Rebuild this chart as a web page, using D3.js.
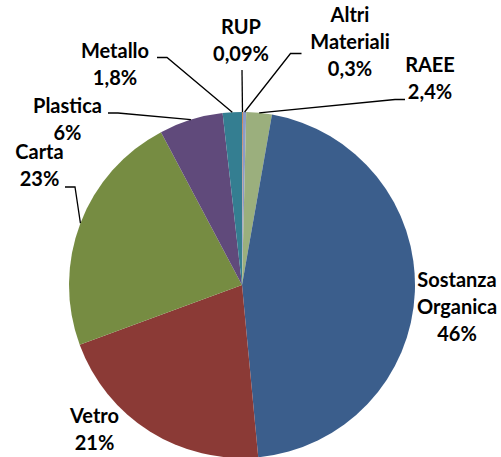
<!DOCTYPE html>
<html>
<head>
<meta charset="utf-8">
<script src="https://cdn.jsdelivr.net/npm/d3@7"></script>
<style>
  html, body { margin: 0; padding: 0; background: #fff; }
  svg { display: block; }
  text { font-family: Lato, "Open Sans", sans-serif; font-weight: bold; fill: #000; }
</style>
</head>
<body>
<svg id="chart" width="501" height="457"></svg>
<script>
// ---- data ----
const categories = ["RUP", "Altri Materiali", "RAEE", "Sostanza Organica", "Vetro", "Carta", "Plastica", "Metallo"];
const values = [0.09, 0.3, 2.4, 46, 21, 23, 6, 1.8];
const valueLabels = ["0,09%", "0,3%", "2,4%", "46%", "21%", "23%", "6%", "1,8%"];
const nameLines = [["RUP"], ["Altri", "Materiali"], ["RAEE"], ["Sostanza", "Organica"], ["Vetro"], ["Carta"], ["Plastica"], ["Metallo"]];
const colors = ["#D0804A", "#8C9CC8", "#9BAF7D", "#3B5E8C", "#8B3A36", "#768C42", "#604A7B", "#347E91"];

// ---- layout (label placement, manually positioned as in the source) ----
// x: text centre, y: first baseline, leader: [startX, startY, stubDx] or null
const labelLayout = [
  { x: 241, y: 34,  leader: [242, 70, 0] },
  { x: 350, y: 21.5, leader: [301.5, 53.5, -11] },
  { x: 430, y: 71.5, leader: [405, 99.5, -10] },
  { x: 457, y: 287, leader: null },
  { x: 94.5, y: 422.5, leader: null },
  { x: 39.5, y: 159, leader: [65, 187, 10] },
  { x: 67.5, y: 112.5, leader: [108, 113, 10] },
  { x: 115, y: 58, leader: [157, 57.5, 10] }
];
const lineGap = 27;

const svg = d3.select("#chart");
const cx = 242, cy = 285, r = 173;
const g = svg.append("g").attr("transform", `translate(${cx},${cy})`);

const pie = d3.pie().sort(null).value(d => d).startAngle(0).endAngle(2 * Math.PI);
const arcs = pie(values);
const arc = d3.arc().innerRadius(0).outerRadius(r);

g.selectAll("path.slice")
  .data(arcs)
  .join("path")
  .attr("class", "slice")
  .attr("d", arc)
  .attr("fill", (d, i) => colors[i]);

// leader lines
arcs.forEach((a, i) => {
  const L = labelLayout[i].leader;
  if (!L) return;
  const mid = (a.startAngle + a.endAngle) / 2;
  const ex = cx + r * Math.sin(mid), ey = cy - r * Math.cos(mid);
  const pts = [[L[0], L[1]]];
  if (L[2] !== 0) pts.push([L[0] + L[2], L[1]]);
  pts.push([ex, ey]);
  svg.append("path")
    .attr("d", d3.line()(pts))
    .attr("fill", "none")
    .attr("stroke", "#000")
    .attr("stroke-width", 1.3);
});

// labels
categories.forEach((c, i) => {
  const lay = labelLayout[i];
  const lines = nameLines[i].concat([valueLabels[i]]);
  const t = svg.append("text")
    .attr("text-anchor", "middle")
    .attr("font-size", 20);
  lines.forEach((s, k) => {
    t.append("tspan").attr("x", lay.x).attr("y", lay.y + k * lineGap).text(s);
  });
});
</script>
</body>
</html>
